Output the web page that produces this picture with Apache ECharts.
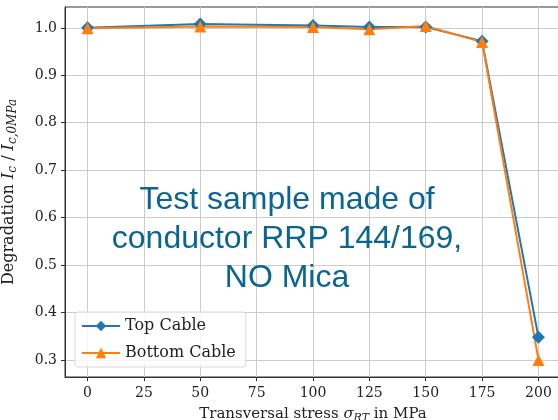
<!DOCTYPE html>
<html>
<head>
<meta charset="utf-8">
<script src="https://cdn.jsdelivr.net/npm/echarts@6/dist/echarts.min.js"></script>
<style>
  html, body { margin: 0; padding: 0; background: #fff; }
  #chart { width: 558px; height: 420px; }
</style>
</head>
<body>
<div id="chart"></div>
<script>
const stress = [0, 50, 100, 125, 150, 175, 200];
const topCable = [1.0, 1.008, 1.005, 1.002, 1.002, 0.972, 0.348];
const bottomCable = [0.999, 1.003, 1.002, 0.997, 1.004, 0.970, 0.300];
const xTicks = [0, 25, 50, 75, 100, 125, 150, 175, 200];
const yTicks = [0.3, 0.4, 0.5, 0.6, 0.7, 0.8, 0.9, 1.0];

const serif = 'DejaVu Serif';
const chart = echarts.init(document.getElementById('chart'));

const pairs = (ys) => stress.map((x, i) => [x, ys[i]]);

const option = {
  animation: false,
  grid: {
    left: 65, top: 7, width: 496, height: 370,
    outerBoundsMode: 'none',
    containLabel: false,
    show: true, borderColor: '#333', borderWidth: 1
  },
  xAxis: {
    type: 'value',
    min: -10, max: 210,
    name: '{n|Transversal stress }{i|σ}{s|RT}{n| in MPa}',
    nameLocation: 'middle',
    nameGap: 28,
    nameTextStyle: {
      rich: {
        n: { fontFamily: serif, fontSize: 15, color: '#222' },
        i: { fontFamily: serif, fontStyle: 'italic', fontSize: 15, color: '#222' },
        s: { fontFamily: serif, fontStyle: 'italic', fontSize: 11, color: '#222', padding: [8, 0, 0, 0] }
      }
    },
    axisLine: { onZero: false, lineStyle: { color: '#333' } },
    axisTick: { show: true, length: 4, customValues: xTicks, lineStyle: { color: '#333' } },
    axisLabel: { customValues: xTicks, fontFamily: serif, fontSize: 14, color: '#222', margin: 9 },
    splitLine: { show: true, lineStyle: { color: '#cccccc', width: 1 } }
  },
  yAxis: {
    type: 'value',
    min: 0.264, max: 1.044,
    name: '{n|Degradation }{i|I}{s|c}{n| / }{i|I}{s|c,0MPa}',
    nameLocation: 'middle',
    nameGap: 46,
    nameRotate: 90,
    nameTextStyle: {
      rich: {
        n: { fontFamily: serif, fontSize: 16, color: '#222' },
        i: { fontFamily: serif, fontStyle: 'italic', fontSize: 16, color: '#222' },
        s: { fontFamily: serif, fontStyle: 'italic', fontSize: 12, color: '#222', padding: [9, 0, 0, 0] }
      }
    },
    axisLine: { show: true, onZero: false, lineStyle: { color: '#333' } },
    axisTick: { show: true, length: 4, customValues: yTicks, lineStyle: { color: '#333' } },
    axisLabel: {
      customValues: yTicks, fontFamily: serif, fontSize: 14, color: '#222', margin: 8,
      formatter: (v) => v.toFixed(1)
    },
    splitLine: { show: true, lineStyle: { color: '#cccccc', width: 1 } }
  },
  legend: {
    left: 75, top: 312,
    orient: 'vertical',
    itemWidth: 38, itemHeight: 13, itemGap: 11,
    padding: [6, 10, 6, 6],
    backgroundColor: 'rgba(255,255,255,0.8)',
    borderColor: '#d8d8d8', borderWidth: 1, borderRadius: 3,
    textStyle: { fontFamily: serif, fontSize: 16, color: '#222' },
    data: ['Top Cable', 'Bottom Cable']
  },
  graphic: [{
    type: 'text',
    x: 287,
    y: 181,
    style: {
      text: 'Test sample made of\nconductor RRP 144/169,\nNO Mica',
      font: '32px "Liberation Sans"',
      fill: '#0b6592',
      align: 'center',
      verticalAlign: 'top',
      lineHeight: 39
    },
    z: 100
  }],
  series: [
    {
      name: 'Top Cable', type: 'line', data: pairs(topCable),
      symbol: 'diamond', symbolSize: 13,
      itemStyle: { color: '#1f77b4' },
      lineStyle: { width: 2, color: '#1f77b4' }
    },
    {
      name: 'Bottom Cable', type: 'line', data: pairs(bottomCable),
      symbol: 'triangle', symbolSize: 12,
      itemStyle: { color: '#ff7f0e' },
      lineStyle: { width: 2, color: '#ff7f0e' }
    }
  ]
};

chart.setOption(option);
</script>
</body>
</html>
